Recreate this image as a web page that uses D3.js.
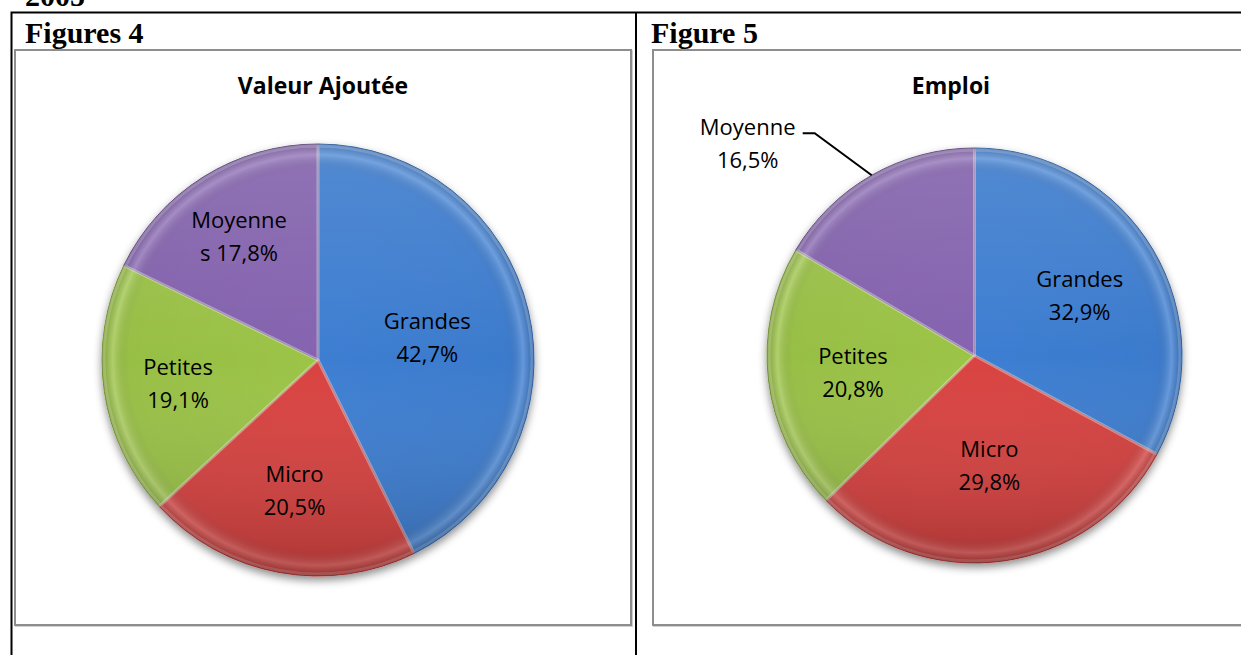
<!DOCTYPE html>
<html>
<head>
<meta charset="utf-8">
<script src="https://cdn.jsdelivr.net/npm/d3@7"></script>
<style>
  body { margin: 0; background: #fff; }
  svg { display: block; }
</style>
</head>
<body>
<script>
// ---------------------------------------------------------------
// DATA
// ---------------------------------------------------------------
var categoriesVA = ["Grandes", "Micro", "Petites", "Moyennes"]
  , valeurAjoutee = [42.7, 20.5, 19.1, 17.8]
  , categoriesEmploi = ["Grandes", "Micro", "Petites", "Moyenne"]
  , emploi = [32.9, 29.8, 20.8, 16.5]
  , colors = ["#3e7ed2", "#d9433f", "#9cc446", "#8563b0"]

// ---------------------------------------------------------------
// LAYOUT
// ---------------------------------------------------------------
var W = 1241, H = 655
  , fmt = function (v) { return d3.format(".1f")(v).replace(".", ",") + "%" }

var svg = d3.select("body").append("svg")
    .attr("width", W)
    .attr("height", H)

var defs = svg.append("defs")

var shadow = defs.append("filter").attr("id", "shadow")
    .attr("x", "-20%").attr("y", "-20%").attr("width", "140%").attr("height", "140%")
shadow.append("feDropShadow")
    .attr("dx", 0).attr("dy", 4).attr("stdDeviation", 4)
    .attr("flood-color", "#000").attr("flood-opacity", 0.45)

var light = defs.append("linearGradient").attr("id", "light")
    .attr("x1", 0).attr("y1", 0).attr("x2", 0).attr("y2", 1)
light.append("stop").attr("offset", "0%").attr("stop-color", "#fff").attr("stop-opacity", 0.12)
light.append("stop").attr("offset", "50%").attr("stop-color", "#fff").attr("stop-opacity", 0)
light.append("stop").attr("offset", "100%").attr("stop-color", "#000").attr("stop-opacity", 0.18)

// table frame
svg.append("text")
    .attr("x", 25).attr("y", 6)
    .attr("font-family", "Liberation Serif").attr("font-weight", "bold").attr("font-size", 30)
    .text("2005")

svg.append("path")
    .attr("d", "M11.5," + (H + 5) + "V12.5H" + (W + 5) + "M636," + (H + 5) + "V12.5")
    .attr("fill", "none").attr("stroke", "#000").attr("stroke-width", 2)

svg.append("text").attr("x", 25).attr("y", 43)
    .attr("font-family", "Liberation Serif").attr("font-weight", "bold").attr("font-size", 30)
    .text("Figures 4")
svg.append("text").attr("x", 651).attr("y", 43)
    .attr("font-family", "Liberation Serif").attr("font-weight", "bold").attr("font-size", 30)
    .text("Figure 5")

// chart boxes
function box (x0, x1) {
	svg.append("rect")
		.attr("x", x0 + 1).attr("y", 51).attr("width", x1 - x0).attr("height", 575)
		.attr("fill", "none").attr("stroke", "#d0d0d0").attr("stroke-width", 2)
	svg.append("rect")
		.attr("x", x0).attr("y", 50).attr("width", x1 - x0).attr("height", 575)
		.attr("fill", "#fff").attr("stroke", "#8e8e8e").attr("stroke-width", 2)
}
box(15, 631)
box(653, 1250)

// ---------------------------------------------------------------
// PIE
// ---------------------------------------------------------------
function pieChart (opt) {
	var g = svg.append("g").attr("transform", "translate(" + opt.cx + "," + opt.cy + ")")
	var arcs = d3.pie().sort(null).value(function (d) { return d })(opt.values)
	var arc = d3.arc().innerRadius(0).outerRadius(opt.r)

	// rim shading, in the pie's own coordinates
	var rim = defs.append("radialGradient").attr("id", "rim" + opt.id)
		.attr("gradientUnits", "userSpaceOnUse")
		.attr("cx", 0).attr("cy", 0).attr("r", opt.r)
	rim.append("stop").attr("offset", "0%").attr("stop-color", "#000").attr("stop-opacity", 0)
	rim.append("stop").attr("offset", "88%").attr("stop-color", "#000").attr("stop-opacity", 0.03)
	rim.append("stop").attr("offset", "95%").attr("stop-color", "#fff").attr("stop-opacity", 0.2)
	rim.append("stop").attr("offset", "100%").attr("stop-color", "#000").attr("stop-opacity", 0.18)

	svg.append("text")
		.attr("x", opt.titleX).attr("y", 88)
		.attr("text-anchor", "middle").attr("dominant-baseline", "middle")
		.attr("font-family", "Open Sans").attr("font-weight", "bold").attr("font-size", 23)
		.text(opt.title)

	var slices = g.append("g").attr("filter", "url(#shadow)")
	slices.selectAll("path.base").data(arcs).join("path")
		.attr("class", "base")
		.attr("d", arc)
		.attr("fill", function (d, i) { return colors[i] })
		.attr("stroke", function (d, i) { return d3.color(colors[i]).darker(0.6) })
		.attr("stroke-width", 1)
		.attr("stroke-linejoin", "round")
	g.selectAll("path.rim").data(arcs).join("path")
		.attr("class", "rim")
		.attr("d", arc)
		.attr("fill", "url(#rim" + opt.id + ")")
	g.selectAll("path.bevel").data(arcs).join("path")
		.attr("class", "bevel")
		.attr("d", d3.arc().innerRadius(0).outerRadius(opt.r - 2))
		.attr("fill", "none")
		.attr("stroke", "#fff").attr("stroke-opacity", 0.2).attr("stroke-width", 3)
		.attr("stroke-linejoin", "round")
	g.append("circle").attr("r", opt.r).attr("fill", "url(#light)")

	// labels
	arcs.forEach(function (d, i) {
		var name = opt.categories[i]
		  , lines = name.length > 7 ? [name.slice(0, 7), name.slice(7) + " " + fmt(opt.values[i])] : [name, fmt(opt.values[i])]
		  , a = (d.startAngle + d.endAngle) / 2
		  , ex = Math.sin(a) * opt.r, ey = -Math.cos(a) * opt.r
		  , lx, ly

		if (opt.outside[i]) {
			var o = opt.outside[i]
			g.append("path")
				.attr("d", "M" + ex + "," + ey + "L" + (ex + o.ex) + "," + (ey + o.ey) + "H" + (ex + o.ex - 12))
				.attr("fill", "none").attr("stroke", "#000").attr("stroke-width", 2)
			lx = ex + o.ex - 12 - 55; ly = ey + o.ey + 12
		} else {
			lx = Math.sin(a) * opt.r * opt.labelR[i]
			ly = -Math.cos(a) * opt.r * opt.labelR[i] + 5
		}
		g.append("text")
			.attr("text-anchor", "middle")
			.attr("font-family", "Open Sans").attr("font-size", 22)
			.attr("fill", "#000")
			.selectAll("tspan").data(lines).join("tspan")
				.attr("x", lx)
				.attr("y", function (t, j) { return ly + (j - 0.5) * 33 })
				.attr("dominant-baseline", "middle")
				.text(function (t) { return t })
	})
}

pieChart({
	id: 1, cx: 318, cy: 360, r: 216, title: "Valeur Ajoutée", titleX: 323,
	categories: categoriesVA, values: valeurAjoutee,
	labelR: [0.52, 0.6, 0.655, 0.69], outside: {}
})

pieChart({
	id: 2, cx: 974.5, cy: 355.5, r: 207.5, title: "Emploi", titleX: 951,
	categories: categoriesEmploi, values: emploi,
	labelR: [0.59, 0.52, 0.59, 0], outside: { 3: { ex: -57, ey: -42 } }
})
</script>
</body>
</html>
